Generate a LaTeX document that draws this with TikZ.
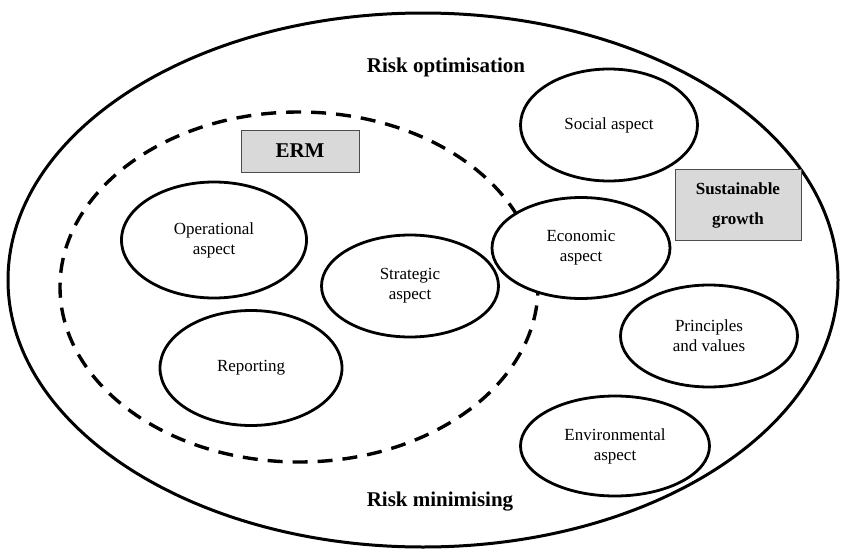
\documentclass[tikz,border=0pt]{standalone}
\usepackage{fontspec}
\setmainfont{Liberation Serif}
\usetikzlibrary{shapes.geometric}
\tikzset{
  asp/.style={ellipse, draw=black, line width=2.8pt, fill=white, inner sep=0pt, align=center,
    font=\fontsize{17}{20}\selectfont},
  graybox/.style={rectangle, draw=black!70, line width=0.9pt, fill=black!15, inner sep=0pt, align=center},
  bigbold/.style={font=\fontsize{21}{24}\selectfont\bfseries, inner sep=0pt}
}
\begin{document}
\begin{tikzpicture}[x=1pt,y=-1pt]
\useasboundingbox (0,0) rectangle (841,549);
\fill[white] (0,0) rectangle (841,549);
% outer ellipse
\node[ellipse, draw=black, line width=3pt, minimum width=830pt, minimum height=534pt, inner sep=0pt] (outer) at (423,280) {};
% dashed ERM ellipse
\node[ellipse, draw=black, line width=3.4pt, dash pattern=on 15pt off 10pt, minimum width=478pt, minimum height=350pt, inner sep=0pt] (erm) at (299,287) {};
% labels
\node[bigbold] (ropt) at (446,67) {Risk optimisation};
\node[bigbold] (rmin) at (440,502) {Risk minimising};
\node[graybox, minimum width=118pt, minimum height=42pt, font=\fontsize{21}{24}\selectfont\bfseries] (ermbox) at (300,151) {ERM};
\node[graybox, minimum width=126pt, minimum height=71pt, font=\fontsize{17}{30}\selectfont\bfseries] (sg) at (738,205) {Sustainable\\growth};
% aspect ellipses
\node[asp, minimum width=177pt, minimum height=112pt] (social) at (609,125) {Social aspect};
\node[asp, minimum width=185pt, minimum height=116pt] (oper) at (214,240) {Operational\\aspect};
\node[asp, minimum width=177pt, minimum height=102pt] (strat) at (410,286) {Strategic\\aspect};
\node[asp, minimum width=178pt, minimum height=101pt] (econ) at (581,248) {Economic\\aspect};
\node[asp, minimum width=182pt, minimum height=115pt] (report) at (251,368) {Reporting};
\node[asp, minimum width=177pt, minimum height=102pt] (princ) at (709,336) {Principles\\and values};
\node[asp, minimum width=189pt, minimum height=100pt] (env) at (615,446) {Environmental\\aspect};
\end{tikzpicture}
\end{document}
